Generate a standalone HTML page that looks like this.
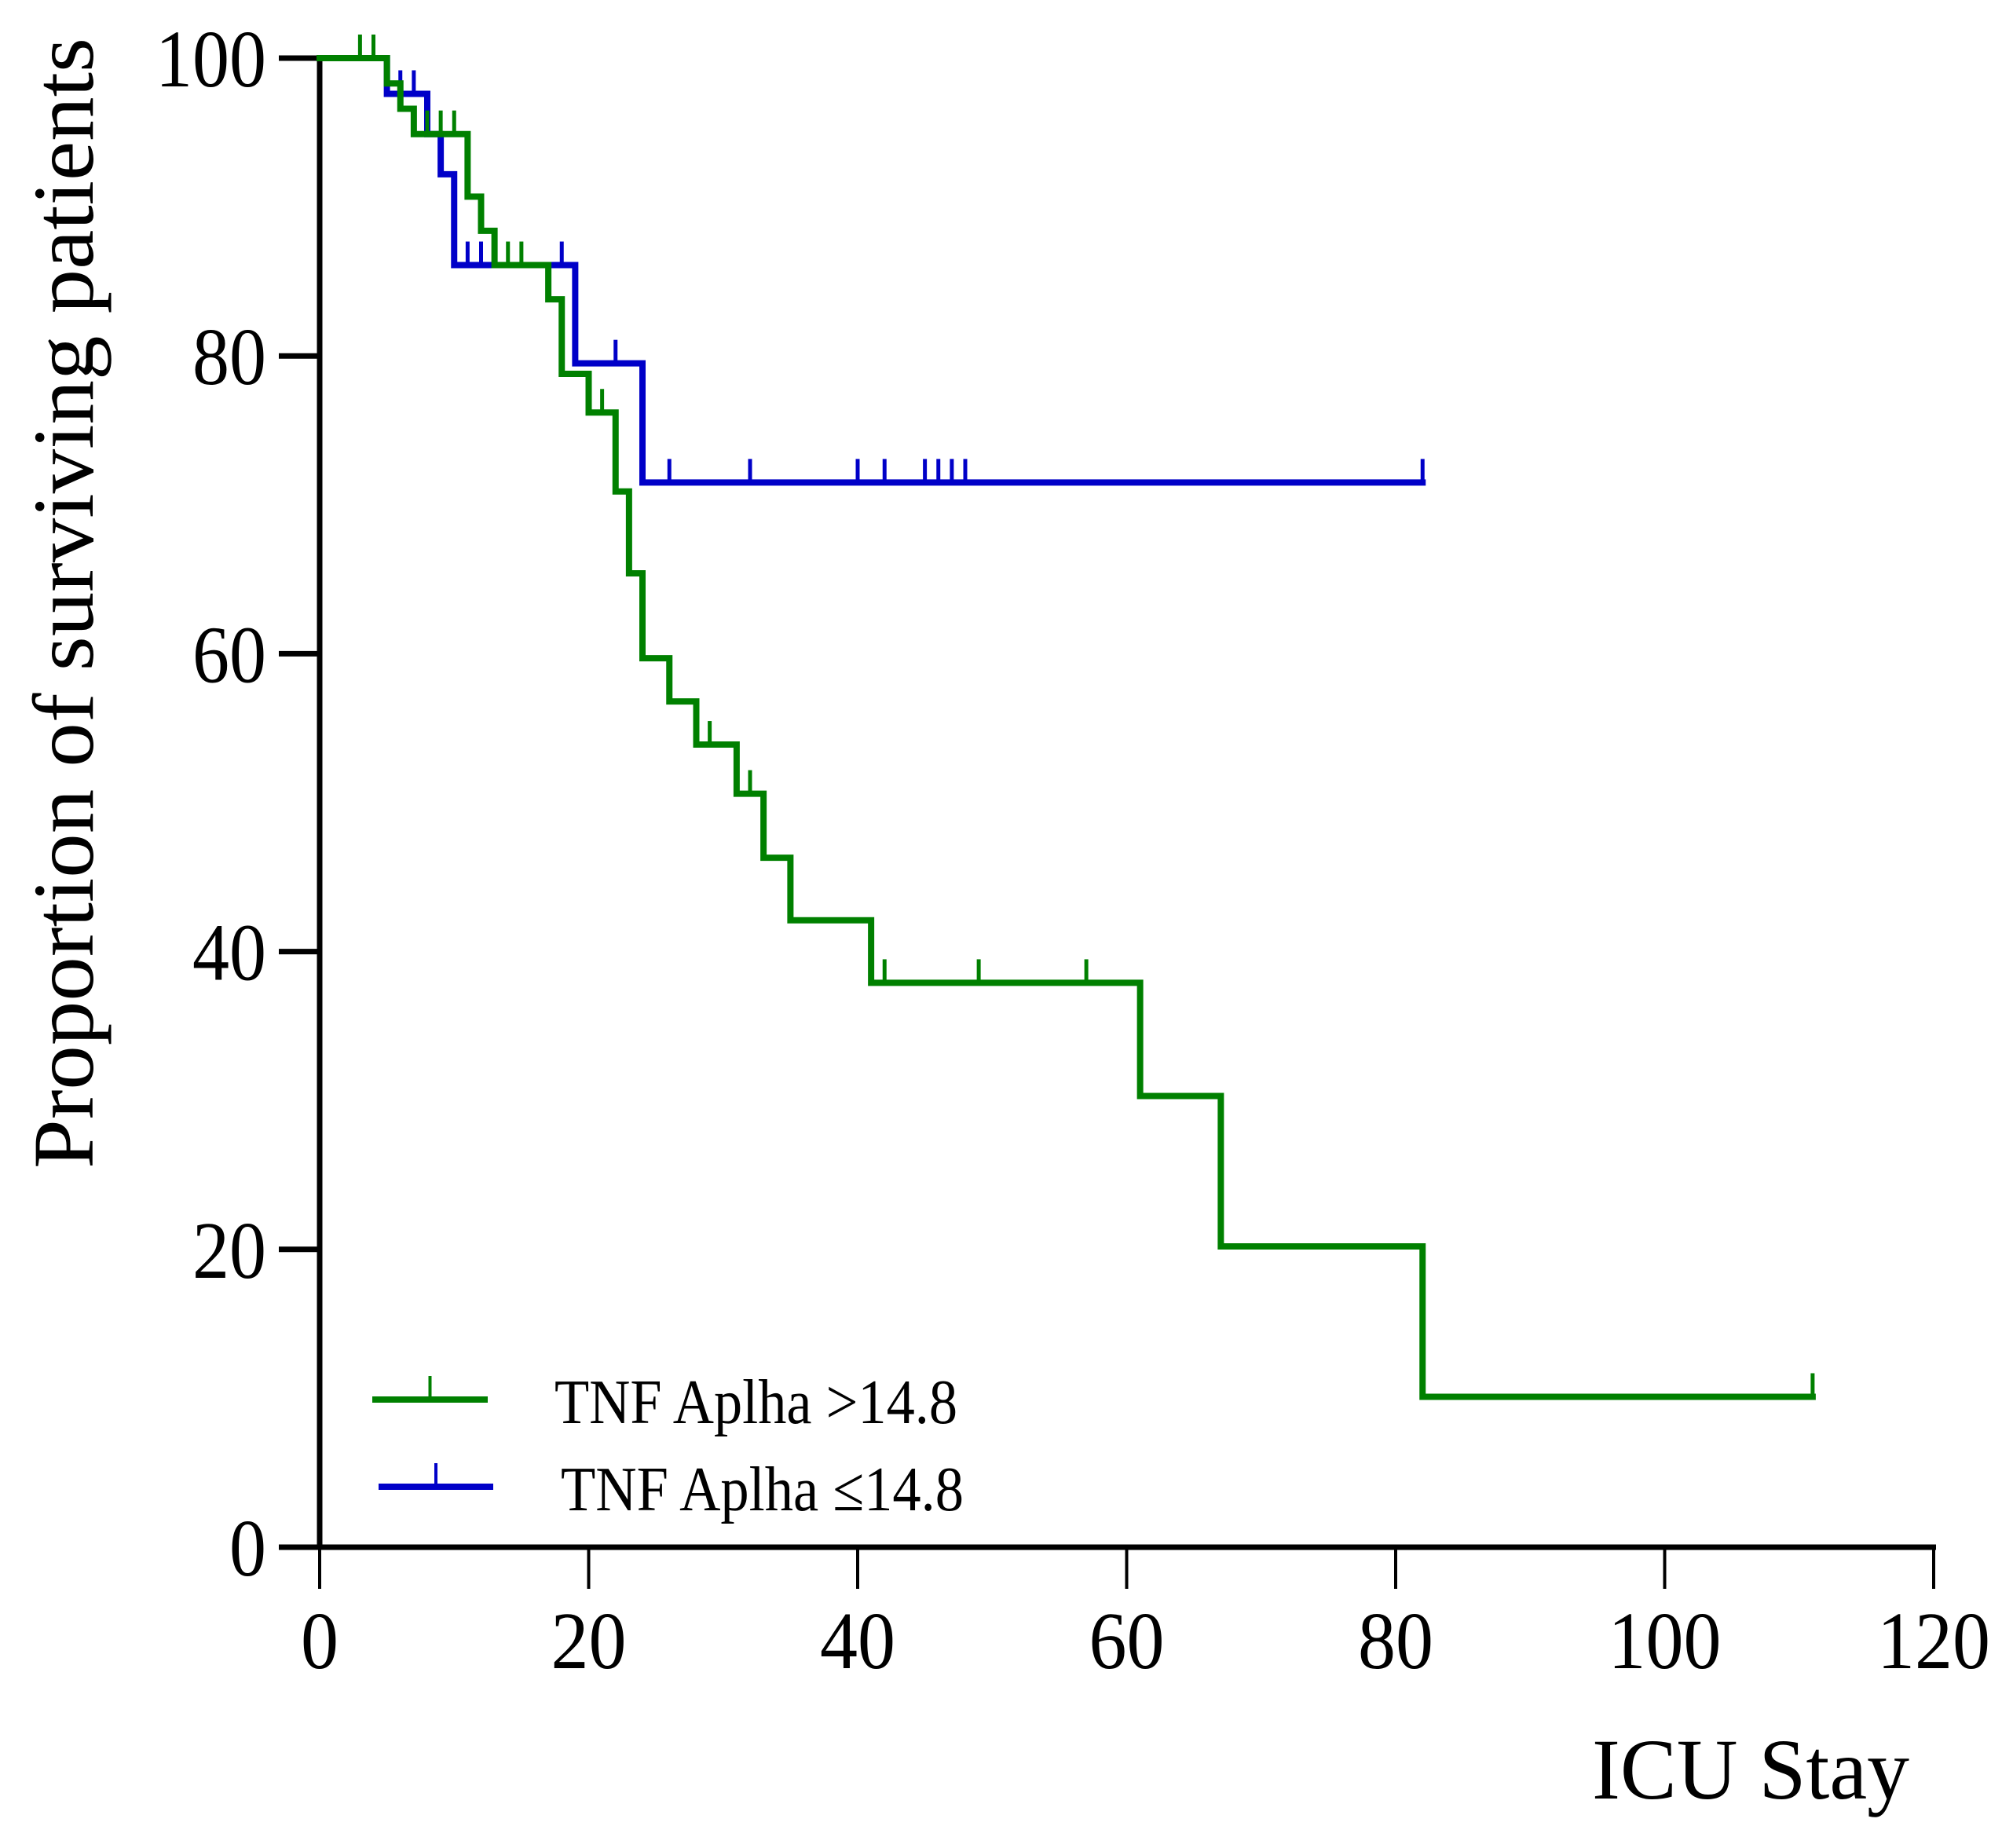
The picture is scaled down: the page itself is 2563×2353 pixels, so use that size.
<!DOCTYPE html>
<html><head><meta charset="utf-8"><style>
html,body{margin:0;padding:0;background:#fff;}
svg{display:block;}
text{font-family:"Liberation Serif",serif;fill:#000;}
</style></head><body>
<svg id="chart" width="2563" height="2353" viewBox="0 0 2563 2353" xmlns="http://www.w3.org/2000/svg">
<g id="axes"></g>
<g id="series"></g>
<g id="legend"></g>
</svg>
<script>
const xTicks = [0, 20, 40, 60, 80, 100, 120];
const yTicks = [0, 20, 40, 60, 80, 100];
const greenTimes = [0, 5, 6, 7, 11, 12, 13, 17, 18, 20, 22, 23, 24, 26, 28, 31, 33, 35, 41, 61, 67, 82];
const greenSurv  = [100, 98.3, 96.6, 94.9, 90.7, 88.4, 86.1, 83.8, 78.8, 76.2, 70.9, 65.4, 59.7, 56.8, 53.9, 50.6, 46.3, 42.1, 37.9, 30.3, 20.2, 10.1];
const greenEnd = 111;
const greenCensor = [3, 4, 8, 9, 10, 14, 15, 21, 29, 32, 42, 49, 57, 111];
const blueTimes = [0, 5, 8, 9, 10, 19, 24];
const blueSurv  = [100, 97.6, 94.9, 92.2, 86.1, 79.5, 71.5];
const blueEnd = 82;
const blueCensor = [6, 7, 11, 12, 18, 22, 26, 32, 40, 42, 45, 46, 47, 48, 82];

const NS = "http://www.w3.org/2000/svg";
const X0 = 407, X1 = 2462, Y0 = 1970, Y1 = 74;
const sx = v => X0 + (v / 120) * (X1 - X0);
const sy = v => Y0 - (v / 100) * (Y0 - Y1);
function mk(tag, attrs, parent) {
  const e = document.createElementNS(NS, tag);
  for (const k in attrs) e.setAttribute(k, attrs[k]);
  parent.appendChild(e);
  return e;
}
const axes = document.getElementById('axes');
let e = mk('line', {x1: X0, y1: Y1 - 3, x2: X0, y2: Y0 + 3, stroke: '#000', 'stroke-width': 7}, axes);


e = mk('line', {x1: 355, y1: Y0, x2: X1 + 3, y2: Y0, stroke: '#000', 'stroke-width': 7}, axes);


xTicks.forEach(t => {
  let l = mk('line', {x1: sx(t), y1: Y0, x2: sx(t), y2: 2023, stroke: '#000', 'stroke-width': 4}, axes);
  
  
  const s = String(t);
  let tx = mk('text', {x: sx(t), y: 2124, 'font-size': 104, 'text-anchor': 'middle', textLength: 48 * s.length, lengthAdjust: 'spacingAndGlyphs'}, axes);
  tx.textContent = s;
  
  
});
yTicks.forEach(t => {
  let l = mk('line', {x1: 355, y1: sy(t), x2: X0, y2: sy(t), stroke: '#000', 'stroke-width': 7}, axes);
  
  
  const s = String(t);
  let tx = mk('text', {x: 339, y: sy(t) + 36, 'font-size': 104, 'text-anchor': 'end', textLength: 47 * s.length, lengthAdjust: 'spacingAndGlyphs'}, axes);
  tx.textContent = s;
  
  
});
let yt = mk('text', {x: 0, y: 0, 'font-size': 110, 'text-anchor': 'middle', textLength: 1440, lengthAdjust: 'spacingAndGlyphs', transform: 'translate(118,768) rotate(-90)'}, axes);
yt.textContent = 'Proportion of surviving patients';


let xt = mk('text', {x: 2229, y: 2290, 'font-size': 110, 'text-anchor': 'middle', textLength: 404, lengthAdjust: 'spacingAndGlyphs'}, axes);
xt.textContent = 'ICU Stay';



const series = document.getElementById('series');
function drawKM(times, surv, end, censor, color, name) {
  let d = 'M' + sx(times[0]) + ',' + sy(surv[0]);
  for (let i = 1; i < times.length; i++) {
    d += ' H' + sx(times[i]) + ' V' + sy(surv[i]);
  }
  d += ' H' + sx(end);
  const p = mk('path', {d: d, fill: 'none', stroke: color, 'stroke-width': 8, 'stroke-linejoin': 'miter', 'stroke-linecap': 'square'}, series);
  
  
  censor.forEach(c => {
    let idx = 0;
    for (let i = 0; i < times.length; i++) if (times[i] <= c) idx = i;
    const yv = sy(surv[idx]);
    const l = mk('line', {x1: sx(c), y1: yv, x2: sx(c), y2: yv - 30, stroke: color, 'stroke-width': 5}, series);
    
    
  });
}
drawKM(blueTimes, blueSurv, blueEnd, blueCensor, '#0000c8', 'low-tnf');
drawKM(greenTimes, greenSurv, greenEnd, greenCensor, '#008000', 'high-tnf');

const legend = document.getElementById('legend');
function legendEntry(x1, x2, y, color, label, tx, name) {
  const g = mk('g', {}, legend);
  
  
  mk('line', {x1: x1, y1: y, x2: x2, y2: y, stroke: color, 'stroke-width': 8}, g);
  const m = (x1 + x2) / 2;
  mk('line', {x1: m, y1: y, x2: m, y2: y - 30, stroke: color, 'stroke-width': 4}, g);
  const t = mk('text', {x: tx, y: y + 30, 'font-size': 80, textLength: 513, lengthAdjust: 'spacingAndGlyphs'}, g);
  t.textContent = label;
}
legendEntry(474, 621, 1782, '#008000', 'TNF Aplha >14.8', 706, 'legend-entry-high');
legendEntry(482, 628, 1893, '#0000c8', 'TNF Aplha \u226414.8', 714, 'legend-entry-low');
</script>
</body></html>
